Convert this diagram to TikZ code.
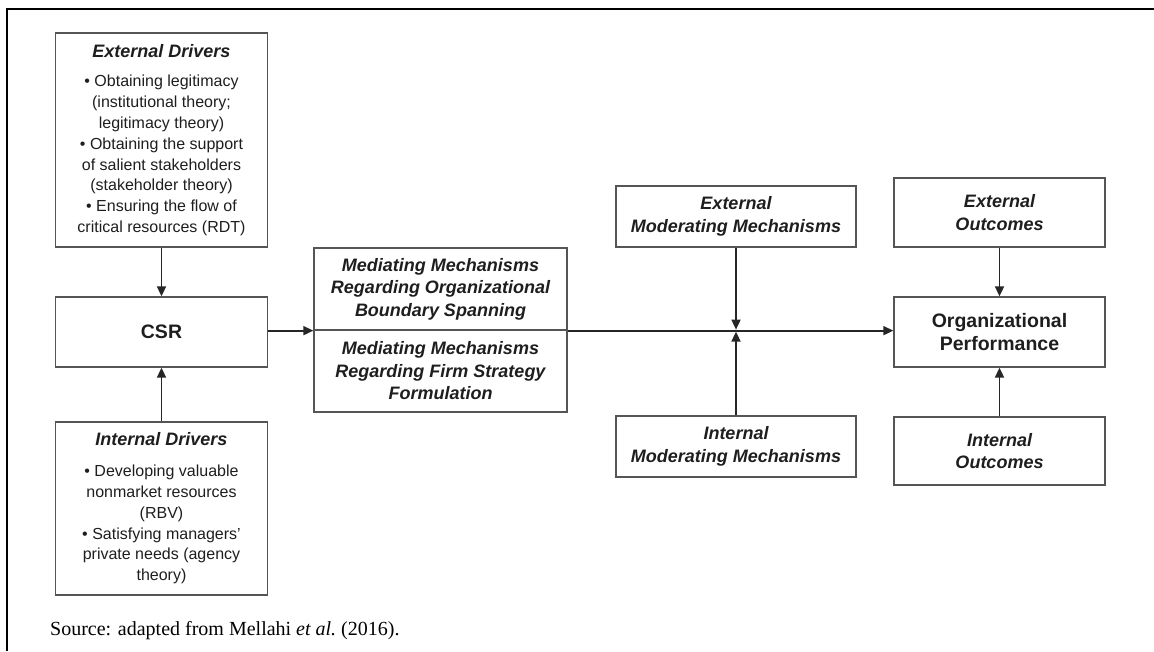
\documentclass[tikz,border=0pt]{standalone}
\usepackage{fontspec}
\setmainfont{Liberation Serif}
\setsansfont{Liberation Sans}
\usetikzlibrary{arrows.meta}
\definecolor{boxline}{HTML}{555555}
\definecolor{txt}{HTML}{1E1E1E}
\definecolor{conn}{HTML}{262626}
\newcommand\dgttl{\fontsize{18}{21}\selectfont\bfseries\itshape}
\begin{document}
\begin{tikzpicture}[x=1pt,y=-1pt,
  box/.style={draw=boxline, line width=1.3pt, inner sep=0pt, align=center, text=txt,
    font=\sffamily\fontsize{16}{20.8}\selectfont},
  bi/.style={font=\sffamily\fontsize{18}{22.5}\selectfont\bfseries\itshape},
  bo/.style={font=\sffamily\fontsize{19.5}{23}\selectfont\bfseries},
  arr/.style={draw=conn, line width=1.7pt, -{Triangle[length=10pt,width=9pt]}},
]
\useasboundingbox (0,0) rectangle (1154,651);
\draw[line width=2.6pt] (7,651) -- (7,9) -- (1154,9);

% left column
\node[box, minimum width=212pt, minimum height=214pt] (ext) at (161.5,140)
 {{\dgttl External Drivers}\\[9pt]
  \textbullet\ Obtaining legitimacy\\
  (institutional theory;\\
  legitimacy theory)\\
  \textbullet\ Obtaining the support\\
  of salient stakeholders\\
  (stakeholder theory)\\
  \textbullet\ Ensuring the flow of\\
  critical resources (RDT)};
\node[box, bo, minimum width=212pt, minimum height=70pt] (csr) at (161.5,332) {CSR};
\node[box, minimum width=212pt, minimum height=173pt] (int) at (161.5,508.5)
 {{\dgttl Internal Drivers}\\[10pt]
  \textbullet\ Developing valuable\\
  nonmarket resources\\
  (RBV)\\
  \textbullet\ Satisfying managers’\\
  private needs (agency\\
  theory)};

% mediating
\node[box, bi, minimum width=253pt, minimum height=82pt] (medA) at (440.5,289)
 {Mediating Mechanisms\\ Regarding Organizational\\ Boundary Spanning};
\node[box, bi, minimum width=253pt, minimum height=82pt] (medB) at (440.5,371)
 {Mediating Mechanisms\\ Regarding Firm Strategy\\ Formulation};

% moderating
\node[box, bi, font=\sffamily\fontsize{18}{23.5}\selectfont\bfseries\itshape, minimum width=240pt, minimum height=61pt] (extmod) at (736,216.5)
 {External\\ Moderating Mechanisms};
\node[box, bi, font=\sffamily\fontsize{18}{23.5}\selectfont\bfseries\itshape, minimum width=240pt, minimum height=61pt] (intmod) at (736,446.5)
 {Internal\\ Moderating Mechanisms};

% right column
\node[box, bi, minimum width=211pt, minimum height=69pt] (extout) at (999.5,212.5)
 {External\\ Outcomes};
\node[box, bo, minimum width=211pt, minimum height=70pt] (org) at (999.5,332)
 {Organizational\\ Performance};
\node[box, bi, minimum width=211pt, minimum height=68pt] (intout) at (999.5,451)
 {Internal\\ Outcomes};

% source
\node[anchor=base west, font=\fontsize{20}{23}\selectfont, text=black, inner sep=0pt] (src) at (50,635)
 {Source: adapted from Mellahi \textit{et al.}\ (2016).};

% connectors
\draw[arr] (ext.south) -- (csr.north);
\draw[arr] (int.north) -- (csr.south);
\draw[arr] (csr.east |- medA.south west) -- (medA.south west);
\coordinate (mx) at (extmod.south |- medA.south east);
\draw[arr] (medA.south east) -- (medA.south east -| org.west);
\draw[arr, shorten >=1pt] (extmod.south) -- (mx);
\draw[arr, shorten >=1pt] (intmod.north) -- (mx);
\draw[arr] (extout.south) -- (org.north);
\draw[arr] (intout.north) -- (org.south);
\end{tikzpicture}
\end{document}
